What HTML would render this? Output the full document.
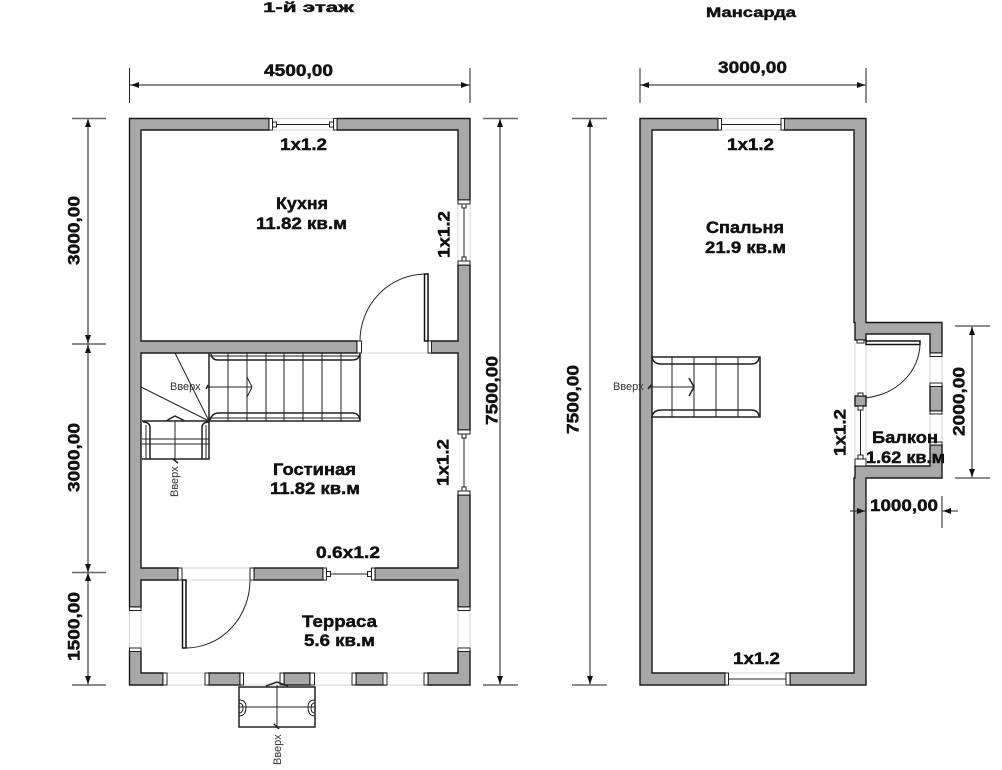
<!DOCTYPE html>
<html><head><meta charset="utf-8"><style>
html,body{margin:0;padding:0;background:#fff;width:1002px;height:770px;overflow:hidden}
svg{display:block}
text{font-family:"Liberation Sans",sans-serif;fill:#111}
.b{font-weight:bold;font-size:16.5px;stroke:#111;stroke-width:.45}
.s{font-size:11px;fill:#333}
.w{fill:#a8a8a8;stroke:#1a1a1a;stroke-width:1.4}
.c{fill:#fff;stroke:#222;stroke-width:1}
.e{fill:#fff;stroke:#111;stroke-width:1.5}
.g{stroke:#d5d5d5;stroke-width:1;fill:none}
.l{stroke:#222;stroke-width:1;fill:none}
.t{stroke:#222;stroke-width:1.5;fill:none}
.d{stroke:#666;stroke-width:1.5;fill:none}
.a{fill:#111}
</style></head><body>
<svg width="1002" height="770" viewBox="0 0 1002 770" xmlns="http://www.w3.org/2000/svg">
<rect width="1002" height="770" fill="#fff"/>

<!-- light guide lines -->
<path class="g" d="M272 118.5H335M272 130H335M458 204V265M470 204V265M362 353H428M183 568H249M183 580H249M141 610V648M129.5 610V648M458 610V648M470 610V648M167 673H205M167 685H205M243 673H280M243 685H280M315 673H352M315 685H352M387 673H424M387 685H424M721 118.5H781M721 130H781M725 673H786M725 685H786M855 343V460M866 343V460M930 357V383M942 357V383M930 414V442M942 414V442"/>

<!-- first floor walls -->
<polygon class="w" points="129.5,118.5 269,118.5 269,130 141,130 141,341 357,341 357,353 141,353 141,568 178,568 178,580 141,580 141,607 129.5,607"/>
<polygon class="w" points="337,118.5 470,118.5 470,200 458,200 458,130 337,130"/>
<polygon class="w" points="431,341 458,341 458,265 470,265 470,430 458,430 458,353 431,353"/>
<rect class="w" x="254" y="568" width="69" height="12"/>
<polygon class="w" points="375,568 458,568 458,495 470,495 470,607 458,607 458,580 375,580"/>
<polygon class="w" points="129.5,651 141,651 141,673 163,673 163,685 129.5,685"/>
<rect class="w" x="209" y="673" width="31" height="12"/>
<rect class="w" x="284" y="673" width="26" height="12"/>
<rect class="w" x="356" y="673" width="30" height="12"/>
<polygon class="w" points="458,651 470,651 470,685 428,685 428,673 458,673"/>

<!-- first floor caps -->
<rect class="c" x="269" y="118.5" width="3.5" height="11.5"/><rect class="c" x="333.5" y="118.5" width="3.5" height="11.5"/>
<rect class="c" x="272.5" y="122" width="4" height="5"/><rect class="c" x="329.5" y="122" width="4" height="5"/>
<path class="l" d="M276 124.5H330"/>
<rect class="c" x="458" y="200" width="12" height="4"/><rect class="c" x="458" y="261" width="12" height="4"/>
<rect class="c" x="462" y="204" width="4" height="4"/><rect class="c" x="462" y="257" width="4" height="4"/>
<path class="l" d="M464 208V257"/>
<rect class="c" x="458" y="430" width="12" height="4"/><rect class="c" x="458" y="491" width="12" height="4"/>
<rect class="c" x="462" y="434" width="4" height="4"/><rect class="c" x="462" y="487" width="4" height="4"/>
<path class="l" d="M464 438V487"/>
<rect class="c" x="323" y="568" width="3.5" height="12"/><rect class="c" x="371.5" y="568" width="3.5" height="12"/>
<rect class="c" x="326.5" y="571.5" width="4" height="5"/><rect class="c" x="367.5" y="571.5" width="4" height="5"/>
<path class="l" d="M330 574H368"/>
<rect class="c" x="357" y="341" width="4.5" height="12"/><rect class="c" x="428" y="341" width="3.5" height="12"/>
<rect class="c" x="178" y="568" width="4" height="12"/><rect class="c" x="250" y="568" width="4" height="12"/>
<rect class="c" x="129.5" y="607" width="11.5" height="3.5"/><rect class="c" x="129.5" y="648" width="11.5" height="3.5"/>
<rect class="c" x="458" y="607" width="12" height="3.5"/><rect class="c" x="458" y="648" width="12" height="3.5"/>
<rect class="c" x="163" y="673" width="4" height="12"/><rect class="c" x="205" y="673" width="4" height="12"/><rect class="c" x="240" y="673" width="3.5" height="12"/><rect class="c" x="280" y="673" width="4" height="12"/><rect class="c" x="310" y="673" width="4.5" height="12"/><rect class="c" x="352" y="673" width="4" height="12"/><rect class="c" x="383" y="673" width="4" height="12"/><rect class="c" x="424" y="673" width="4" height="12"/>

<!-- first floor doors -->
<rect class="e" x="424.5" y="274" width="3.5" height="67"/>
<path class="l" d="M360 341A66 67 0 0 1 424 274"/>
<rect class="e" x="182.5" y="580" width="3.5" height="68"/>
<path class="l" d="M186 648A64 68 0 0 0 250 580"/>

<!-- first floor stair -->
<path class="t" d="M209 353V421H360V353M142 421H209V459H142"/>
<path class="l" d="M228 353V421M247 353V421M266 353V421M284 353V421M303 353V421M322 353V421M341 353V421"/>
<path class="t" d="M211 354Q212 360 218 360H352Q359 360 360 354M210 420Q212 413 219 413H352Q359 413 360 420"/>
<path class="l" d="M209 356H360M209 418H360"/>
<path class="t" d="M209 422Q202 422 202 428V459M143 422Q150 422 150 428V459"/>
<path class="l" d="M206 425V459M146 425V459"/>
<path class="l" d="M209 421L175 353M209 421L141 387M142 439H209M142 444H209"/>
<path class="l" d="M207 387H252M252 387L247 377M252 387L247 397M175 421V461"/>
<path class="t" d="M166 421L175 416L185 421M173 459L178 463M206 389L208 385"/>
<text class="s" x="170" y="390">Вверх</text>
<text class="s" transform="translate(178,497) rotate(-90)">Вверх</text>

<!-- porch -->
<rect class="t" x="239" y="687" width="76" height="40"/>
<path class="l" d="M239 707H315M277 685V727"/>
<path class="t" d="M266 686L277 682L288 686M274 724L279 729"/>
<path class="l" d="M239 700Q246 700 246 707Q246 716 239 716M315 700Q308 700 308 707Q308 716 315 716M239 703Q243 703 243 708Q243 713 239 713M315 703Q311 703 311 708Q311 713 315 713"/>
<text class="s" transform="translate(281,765) rotate(-90)">Вверх</text>

<!-- attic walls -->
<polygon class="w" points="640,118.5 718,118.5 718,130 652,130 652,673 725,673 725,685 640,685"/>
<polygon class="w" points="784,118.5 866,118.5 866,322.5 942,322.5 942,353 930,353 930,334 866,334 866,340 855,340 855,322.5 854,322.5 854,130 784,130"/>
<rect class="w" x="930" y="386" width="12" height="25"/>
<polygon class="w" points="855,466 930,466 930,445 942,445 942,478 866,478 866,685 790,685 790,673 854,673 854,478 855,478"/>

<rect class="c" x="718" y="118.5" width="3.5" height="11.5"/><rect class="c" x="781" y="118.5" width="3.5" height="11.5"/>
<path class="l" d="M721 124.5H781"/>
<rect class="c" x="725" y="673" width="3.5" height="12"/><rect class="c" x="786" y="673" width="4" height="12"/>
<path class="l" d="M728 679H786"/>
<rect class="c" x="930" y="353" width="12" height="3.5"/><rect class="c" x="930" y="383" width="12" height="3.5"/><rect class="c" x="930" y="411" width="12" height="3"/><rect class="c" x="930" y="442" width="12" height="3"/>
<rect class="c" x="857" y="340" width="7" height="3"/>
<rect class="e" x="866" y="341" width="54" height="3.5"/>
<path class="l" d="M920 343A60 55 0 0 1 861 398"/>
<rect class="w" x="855" y="396" width="11" height="10"/>
<rect class="c" x="858" y="393" width="5" height="3"/><rect class="c" x="858" y="406" width="5" height="4"/>
<path class="l" d="M860.5 410V455"/>
<rect class="c" x="858" y="455" width="5" height="4"/><rect class="c" x="855" y="459" width="11" height="7"/>

<!-- attic stair -->
<path class="t" d="M651 357H760V417H651"/>
<path class="l" d="M672 357V417M694 357V417M716 357V417M738 357V417"/>
<path class="t" d="M652 358Q654 364 661 364H751Q758 364 759 358M652 416Q654 410 661 410H751Q758 410 759 416"/>
<path class="l" d="M649 387H694"/>
<path class="t" d="M689 378L694 387L689 396M648 389L651 385"/>
<text class="s" x="613" y="390">Вверх</text>

<!-- dimension lines -->
<path class="d" d="M130 85H470M640 85H866M88 118V685M500 118V685M590 118V685M972 326V478M72 118.5H106M72 344H106M72 572.5H106M72 685H106M483 118.5H518M483 685H518M572 118.5H607M572 685H607M955 326H990M955 478H990"/>
<path class="l" d="M129.5 68V103M470 68V103M640 68V103M866 68V103"/>
<path class="l" d="M850 511H866M942 511H958M866 498V530M942 496V528"/>
<g class="a">
<polygon points="131,85 139,82 139,88"/><polygon points="469,85 461,82 461,88"/>
<polygon points="641,85 649,82 649,88"/><polygon points="865,85 857,82 857,88"/>
<polygon points="88,119 85,127 91,127"/><polygon points="88,343 85,335 91,335"/><polygon points="88,345 85,353 91,353"/><polygon points="88,572 85,564 91,564"/><polygon points="88,573 85,581 91,581"/><polygon points="88,684 85,676 91,676"/>
<polygon points="500,119 497,127 503,127"/><polygon points="500,684 497,676 503,676"/>
<polygon points="590,119 587,127 593,127"/><polygon points="590,684 587,676 593,676"/>
<polygon points="972,327 969,335 975,335"/><polygon points="972,477 969,469 975,469"/>
<polygon points="865,511 857,508 857,514"/><polygon points="943,511 951,508 951,514"/>
</g>

<!-- titles -->
<text class="b" style="font-size:14px" x="263" y="12" textLength="91" lengthAdjust="spacingAndGlyphs">1-й этаж</text>
<text class="b" style="font-size:14px" x="706" y="17" textLength="90" lengthAdjust="spacingAndGlyphs">Мансарда</text>

<!-- horizontal labels -->
<text class="b" x="264" y="76" textLength="69" lengthAdjust="spacingAndGlyphs">4500,00</text>
<text class="b" x="718" y="73" textLength="69" lengthAdjust="spacingAndGlyphs">3000,00</text>
<text class="b" x="870" y="511" textLength="68" lengthAdjust="spacingAndGlyphs">1000,00</text>
<text class="b" x="280" y="150" textLength="47" lengthAdjust="spacingAndGlyphs">1x1.2</text>
<text class="b" x="727" y="150" textLength="47" lengthAdjust="spacingAndGlyphs">1x1.2</text>
<text class="b" x="733" y="664" textLength="47" lengthAdjust="spacingAndGlyphs">1x1.2</text>
<text class="b" x="316" y="558" textLength="64" lengthAdjust="spacingAndGlyphs">0.6x1.2</text>
<text class="b" x="276" y="209" textLength="52" lengthAdjust="spacingAndGlyphs">Кухня</text>
<text class="b" x="256" y="229" textLength="91" lengthAdjust="spacingAndGlyphs">11.82 кв.м</text>
<text class="b" x="273" y="475" textLength="83" lengthAdjust="spacingAndGlyphs">Гостиная</text>
<text class="b" x="270" y="494" textLength="90" lengthAdjust="spacingAndGlyphs">11.82 кв.м</text>
<text class="b" x="302" y="627" textLength="75" lengthAdjust="spacingAndGlyphs">Терраса</text>
<text class="b" x="304" y="646" textLength="71" lengthAdjust="spacingAndGlyphs">5.6 кв.м</text>
<text class="b" x="706" y="233" textLength="78" lengthAdjust="spacingAndGlyphs">Спальня</text>
<text class="b" x="705" y="253" textLength="81" lengthAdjust="spacingAndGlyphs">21.9 кв.м</text>
<text class="b" x="872" y="443" textLength="66" lengthAdjust="spacingAndGlyphs">Балкон</text>
<text class="b" x="866" y="463" textLength="79" lengthAdjust="spacingAndGlyphs">1.62 кв.м</text>

<!-- rotated labels -->
<text class="b" transform="translate(79.5,265) rotate(-90)" textLength="69" lengthAdjust="spacingAndGlyphs">3000,00</text>
<text class="b" transform="translate(79.5,492) rotate(-90)" textLength="69" lengthAdjust="spacingAndGlyphs">3000,00</text>
<text class="b" transform="translate(79.5,661) rotate(-90)" textLength="69" lengthAdjust="spacingAndGlyphs">1500,00</text>
<text class="b" transform="translate(497.5,425) rotate(-90)" textLength="69" lengthAdjust="spacingAndGlyphs">7500,00</text>
<text class="b" transform="translate(578.5,434) rotate(-90)" textLength="69" lengthAdjust="spacingAndGlyphs">7500,00</text>
<text class="b" transform="translate(964.5,436) rotate(-90)" textLength="69" lengthAdjust="spacingAndGlyphs">2000,00</text>
<text class="b" transform="translate(449.5,258) rotate(-90)" textLength="47" lengthAdjust="spacingAndGlyphs">1x1.2</text>
<text class="b" transform="translate(448.5,486) rotate(-90)" textLength="47" lengthAdjust="spacingAndGlyphs">1x1.2</text>
<text class="b" transform="translate(845.5,456) rotate(-90)" textLength="47" lengthAdjust="spacingAndGlyphs">1x1.2</text>
</svg>
</body></html>
